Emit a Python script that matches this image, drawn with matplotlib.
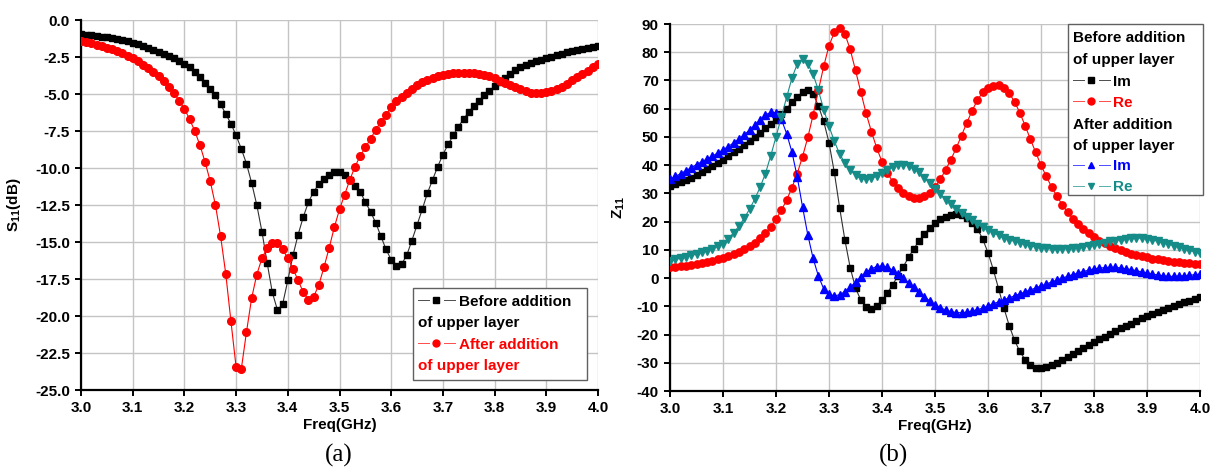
import numpy as np
import matplotlib
matplotlib.use('Agg')
import matplotlib.pyplot as plt
from matplotlib.patches import Rectangle

plt.rcParams['font.family'] = ['Liberation Sans', 'DejaVu Sans']
plt.rcParams['font.weight'] = 'bold'
plt.rcParams['axes.labelweight'] = 'bold'
plt.rcParams['axes.unicode_minus'] = False
plt.rcParams['mathtext.fontset'] = 'custom'
plt.rcParams['mathtext.rm'] = 'Liberation Sans:bold'
plt.rcParams['mathtext.bf'] = 'Liberation Sans:bold'

# frequency sweep, 3.0 .. 4.0 GHz in 10 MHz steps
freq = np.linspace(3.0, 4.0, 101)
freq_ticks = [3.0, 3.1, 3.2, 3.3, 3.4, 3.5, 3.6, 3.7, 3.8, 3.9, 4.0]
s11_ticks = [-25.0, -22.5, -20.0, -17.5, -15.0, -12.5, -10.0, -7.5, -5.0, -2.5, 0.0]
z11_ticks = [-40, -30, -20, -10, 0, 10, 20, 30, 40, 50, 60, 70, 80, 90]

# (a) S11 in dB
s11_before = [
    -0.95, -0.99, -1.03, -1.08, -1.13, -1.18, -1.24, -1.30, -1.37, -1.45,
    -1.55, -1.65, -1.76, -1.88, -2.01, -2.14, -2.28, -2.43, -2.59, -2.76,
    -2.94, -3.20, -3.50, -3.85, -4.25, -4.65, -5.10, -5.70, -6.35, -7.00,
    -7.80, -8.70, -9.70, -11.00, -12.50, -14.30, -16.40, -18.40, -19.60, -19.20,
    -17.60, -15.90, -14.50, -13.30, -12.30, -11.60, -11.10, -10.75, -10.50, -10.30,
    -10.30, -10.50, -10.80, -11.20, -11.60, -12.30, -12.95, -13.70, -14.60, -15.50,
    -16.20, -16.60, -16.50, -15.90, -14.90, -13.85, -12.80, -11.70, -10.80, -9.90,
    -9.10, -8.40, -7.80, -7.20, -6.70, -6.20, -5.80, -5.45, -5.10, -4.80,
    -4.45, -4.20, -3.90, -3.65, -3.40, -3.20, -3.05, -2.92, -2.80, -2.68,
    -2.57, -2.47, -2.37, -2.28, -2.19, -2.10, -2.02, -1.95, -1.88, -1.81,
    -1.75]
s11_after = [
    -1.40, -1.48, -1.57, -1.66, -1.76, -1.87, -1.99, -2.12, -2.26, -2.42,
    -2.60, -2.80, -3.02, -3.26, -3.52, -3.81, -4.14, -4.50, -4.95, -5.45,
    -6.00, -6.70, -7.50, -8.45, -9.60, -10.90, -12.50, -14.60, -17.15, -20.35,
    -23.45, -23.60, -21.10, -18.80, -17.20, -16.10, -15.40, -15.10, -15.10, -15.50,
    -16.10, -16.80, -17.60, -18.40, -18.90, -18.70, -17.90, -16.70, -15.40, -14.00,
    -12.80, -11.80, -10.80, -9.90, -9.20, -8.60, -8.05, -7.40, -6.90, -6.40,
    -5.90, -5.50, -5.20, -4.90, -4.65, -4.40, -4.20, -4.05, -3.90, -3.80,
    -3.70, -3.65, -3.60, -3.60, -3.60, -3.60, -3.60, -3.65, -3.70, -3.80,
    -3.95, -4.10, -4.25, -4.40, -4.50, -4.65, -4.80, -4.90, -4.95, -4.95,
    -4.88, -4.78, -4.65, -4.50, -4.30, -4.05, -3.85, -3.65, -3.42, -3.20,
    -3.00]

# (b) Z11
z_im_before = [
    32.5, 33.2, 34.0, 34.8, 35.6, 36.5, 37.5, 38.5, 39.6, 40.8,
    42.0, 43.2, 44.5, 45.8, 47.1, 48.5, 50.0, 51.5, 53.0, 54.5,
    56.0, 58.0, 60.0, 62.3, 64.3, 65.8, 66.6, 65.3, 61.0, 55.5,
    48.0, 37.5, 25.0, 13.5, 3.7, -3.5, -7.8, -10.2, -10.8, -9.8,
    -7.8, -5.3, -2.4, 0.8, 4.0, 7.3, 10.4, 13.2, 15.7, 17.8,
    19.5, 20.8, 21.8, 22.4, 22.6, 22.3, 21.3, 19.6, 17.5, 13.8,
    9.0, 3.0, -3.8, -10.6, -16.8, -22.0, -26.0, -28.9, -30.8, -31.8,
    -32.0, -31.6, -30.9, -30.0, -29.0, -28.0, -27.0, -25.9, -24.8, -23.7,
    -22.6, -21.6, -20.7, -19.8, -18.9, -17.8, -17.0, -16.1, -15.2, -14.2,
    -13.3, -12.6, -11.9, -11.2, -10.5, -9.9, -9.2, -8.6, -8.0, -7.4,
    -6.8]
z_re_before = [
    3.8, 4.0, 4.2, 4.4, 4.7, 5.0, 5.3, 5.7, 6.1, 6.6,
    7.2, 7.8, 8.5, 9.3, 10.2, 11.3, 12.6, 14.1, 15.9, 18.2,
    20.8, 24.0, 27.6, 32.0, 37.0, 43.0, 49.8, 57.8, 66.5, 75.0,
    82.3, 87.0, 88.5, 86.5, 81.0, 73.6, 65.9, 58.4, 51.9, 46.1,
    41.2, 37.3, 34.2, 31.8, 30.1, 29.0, 28.5, 28.5, 29.0, 30.2,
    32.2, 35.0, 38.3, 42.0, 46.0, 50.5, 55.0, 59.3, 63.0, 65.8,
    67.5, 68.2, 68.3, 67.5, 65.5, 62.5, 58.6, 54.0, 49.2, 44.5,
    40.0, 36.0, 32.3, 29.0, 26.0, 23.4, 21.1, 19.1, 17.3, 15.8,
    14.5, 13.3, 12.3, 11.4, 10.6, 9.9, 9.3, 8.7, 8.2, 7.7,
    7.3, 6.9, 6.6, 6.3, 6.0, 5.8, 5.6, 5.4, 5.2, 5.1,
    5.0]
z_im_after = [
    35.0, 36.0, 37.0, 38.0, 39.1, 40.2, 41.2, 42.2, 43.2, 44.3,
    45.4, 46.6, 47.9, 49.3, 50.8, 52.4, 54.2, 56.0, 57.8, 58.7,
    58.6, 56.3, 51.2, 44.7, 35.9, 25.3, 15.3, 7.0, 0.7, -3.8,
    -5.8, -6.3, -5.9, -4.8, -3.2, -1.4, 0.4, 2.0, 3.3, 4.1,
    4.3, 3.8, 2.8, 1.5, 0.0, -1.6, -3.3, -5.0, -6.6, -8.1,
    -9.4, -10.5, -11.3, -11.9, -12.2, -12.3, -12.1, -11.7, -11.2, -10.6,
    -9.9, -9.1, -8.4, -7.7, -7.0, -6.3, -5.6, -4.9, -4.2, -3.5,
    -2.8, -2.1, -1.4, -0.7, 0.0, 0.6, 1.2, 1.8, 2.3, 2.8,
    3.2, 3.5, 3.7, 3.8, 3.8, 3.6, 3.3, 3.0, 2.6, 2.2,
    1.8, 1.4, 1.1, 0.8, 0.6, 0.6, 0.7, 0.8, 1.0, 1.2,
    1.4]
z_re_after = [
    6.2, 6.6, 7.0, 7.5, 8.0, 8.5, 9.1, 9.7, 10.4, 11.2,
    12.2, 14.0, 16.0, 18.4, 21.2, 24.4, 28.0, 32.2, 37.0, 43.3,
    50.0, 57.0, 64.0, 70.8, 75.8, 77.5, 76.0, 72.2, 66.5, 59.7,
    53.8, 48.5, 44.0, 40.8, 38.2, 36.5, 35.3, 35.0, 35.3, 36.1,
    37.2, 38.3, 39.3, 39.9, 40.2, 39.8, 38.8, 37.4, 35.6, 33.6,
    31.7, 29.7, 27.8, 26.1, 24.5, 23.1, 21.7, 20.4, 19.2, 18.0,
    17.0, 16.0, 15.1, 14.3, 13.6, 13.0, 12.4, 11.9, 11.4, 11.0,
    10.7, 10.5, 10.3, 10.3, 10.3, 10.4, 10.6, 10.8, 11.1, 11.4,
    11.8, 12.2, 12.6, 13.0, 13.3, 13.6, 13.9, 14.1, 14.2, 14.1,
    13.9, 13.5, 13.1, 12.6, 12.1, 11.5, 10.9, 10.3, 9.8, 9.3,
    8.8]

BLACK = '#000000'
RED = '#ff0000'
BLUE = '#0000ff'
TEAL = '#168c88'
FS = 11


def style_axes(ax):
    ax.grid(True, color='#c4c4c4', linewidth=1.0, zorder=0)
    ax.set_axisbelow(True)
    for side in ('top', 'right'):
        ax.spines[side].set_visible(False)
    for side in ('left', 'bottom'):
        ax.spines[side].set_linewidth(1.6)
    ax.tick_params(direction='out', length=4, width=1.4, labelsize=FS, pad=4)
    ax.set_xlim(3.0, 4.0)
    ax.set_xticks(freq_ticks)
    ax.set_xticklabels(['%.1f' % t for t in freq_ticks], fontsize=FS,
                       fontweight='bold')
    ax.set_xlabel('Freq(GHz)', fontsize=FS, fontweight='bold', labelpad=2)


def legend_box(ax, box, rows):
    x0, y0, x1, y1 = box
    ax.add_patch(Rectangle((x0, y0), x1 - x0, y1 - y0, transform=ax.transAxes,
                           facecolor='white', edgecolor='#606060', linewidth=1.0,
                           zorder=20, clip_on=False))
    for r in rows:
        y = r['y']
        if r.get('marker'):
            hx0, hx1 = r['hx']
            hm = (hx0 + hx1) / 2
            gap = 0.014 * (hx1 - hx0) / 0.07
            ax.plot([hx0, hm - gap], [y, y], color=r['color'], lw=0.7, alpha=0.7,
                    transform=ax.transAxes, zorder=21, clip_on=False)
            ax.plot([hm + gap, hx1], [y, y], color=r['color'], lw=0.7, alpha=0.7,
                    transform=ax.transAxes, zorder=21, clip_on=False)
            ax.plot([hm], [y], marker=r['marker'], color=r['color'], ms=5,
                    transform=ax.transAxes, zorder=22, clip_on=False)
        ax.text(r['tx'], y, r['text'], color=r['color'], fontsize=FS,
                fontweight='bold', va='center_baseline', ha='left',
                transform=ax.transAxes, zorder=22)


fig = plt.figure(figsize=(12.14, 4.69), dpi=100)
ax1 = fig.add_axes([81 / 1214, 1 - 390 / 469, 517 / 1214, 370 / 469])
ax2 = fig.add_axes([670 / 1214, 1 - 391 / 469, 530 / 1214, 367 / 469])

# ---- (a)
style_axes(ax1)
ax1.plot(freq, s11_before, color='#303030', lw=0.8, marker='s', ms=4.8,
         mfc=BLACK, mec=BLACK, zorder=3)
ax1.plot(freq, s11_after, color=RED, lw=0.8, marker='o', ms=5.5,
         mfc=RED, mec=RED, zorder=4)
ax1.set_ylim(-25, 0)
ax1.set_yticks(s11_ticks)
ax1.set_yticklabels(['%.1f' % t for t in s11_ticks], fontsize=FS,
                    fontweight='bold')
ax1.set_ylabel(r'S$_{11}$(dB)', fontsize=FS, fontweight='bold', labelpad=9)

legend_box(ax1, (0.643, 0.027, 0.979, 0.276), [
    dict(y=0.243, text='Before addition', color=BLACK, marker='s',
         hx=(0.652, 0.723), tx=0.731),
    dict(y=0.184, text='of upper layer', color=BLACK, tx=0.651),
    dict(y=0.127, text='After addition', color=RED, marker='o',
         hx=(0.652, 0.723), tx=0.731),
    dict(y=0.070, text='of upper layer', color=RED, tx=0.651),
])

# ---- (b)
style_axes(ax2)
ax2.plot(freq, z_im_before, color='#303030', lw=0.8, marker='s', ms=4.5,
         mfc=BLACK, mec=BLACK, zorder=3)
ax2.plot(freq, z_re_before, color=RED, lw=0.8, marker='o', ms=5.3,
         mfc=RED, mec=RED, zorder=4)
ax2.plot(freq, z_im_after, color=BLUE, lw=0.8, marker='^', ms=5.3,
         mfc=BLUE, mec=BLUE, zorder=5)
ax2.plot(freq, z_re_after, color=TEAL, lw=0.8, marker='v', ms=5.3,
         mfc=TEAL, mec=TEAL, zorder=6)
ax2.set_ylim(-40, 90)
ax2.set_yticks(z11_ticks)
ax2.set_yticklabels([str(t) for t in z11_ticks], fontsize=FS,
                    fontweight='bold')
ax2.set_ylabel(r'Z$_{11}$', fontsize=FS, fontweight='bold', labelpad=7)

hx = (0.760, 0.830)
legend_box(ax2, (0.751, 0.534, 1.006, 1.0), [
    dict(y=0.965, text='Before addition', color=BLACK, tx=0.760),
    dict(y=0.907, text='of upper layer', color=BLACK, tx=0.760),
    dict(y=0.847, text='Im', color=BLACK, marker='s', hx=hx, tx=0.836),
    dict(y=0.790, text='Re', color=RED, marker='o', hx=hx, tx=0.836),
    dict(y=0.730, text='After addition', color=BLACK, tx=0.760),
    dict(y=0.673, text='of upper layer', color=BLACK, tx=0.760),
    dict(y=0.616, text='Im', color=BLUE, marker='^', hx=hx, tx=0.836),
    dict(y=0.559, text='Re', color=TEAL, marker='v', hx=hx, tx=0.836),
])

fig.text(339 / 1214, 1 - 455 / 469, '(a)', ha='center', va='center',
         fontsize=18, fontweight='normal', family='Liberation Serif')
fig.text(893 / 1214, 1 - 455 / 469, '(b)', ha='center', va='center',
         fontsize=18, fontweight='normal', family='Liberation Serif')

fig.savefig('out.png', dpi=100)
